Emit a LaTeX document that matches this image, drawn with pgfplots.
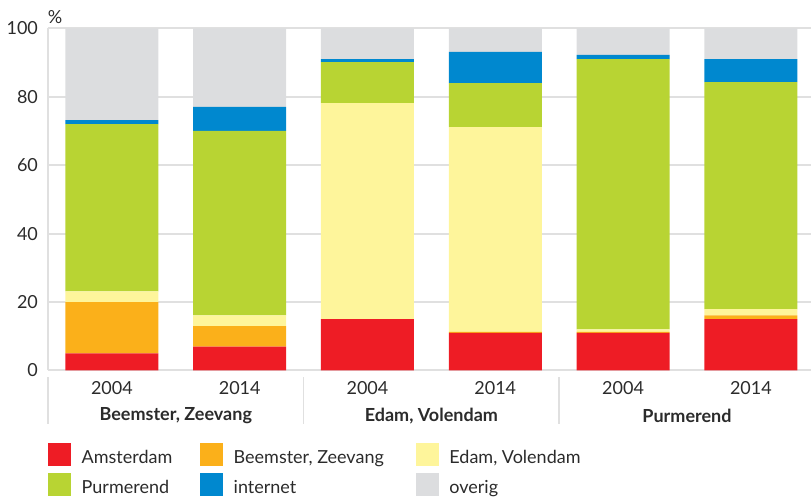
\documentclass[border=0pt]{standalone}
\usepackage{pgfplots}
\pgfplotsset{compat=1.18}
\usepackage{pgfplotstable}
\usepackage{fontspec}
\setmainfont{Lato}
\definecolor{cAms}{HTML}{EE1C25}
\definecolor{cBee}{HTML}{FBB01A}
\definecolor{cEda}{HTML}{FEF59B}
\definecolor{cPur}{HTML}{B8D433}
\definecolor{cInt}{HTML}{0088CF}
\definecolor{cOve}{HTML}{DCDDDF}
\definecolor{gridc}{HTML}{E0E0E0}
\definecolor{txt}{HTML}{2B2B2B}

% shares in percent, one row per bar (group x year)
\pgfplotstableread{
x ams bee eda pur int ove
0 5  15  3.1 48.9 1.2 26.8
1 7  6   3.1 53.9 7.0 23.0
2 15 0   63.1 12.0 0.9 9.0
3 11 0.3 59.8 12.9 9.1 6.9
4 11 0.3 0.7 79.0 1.2 7.8
5 15 1.1 1.8 66.4 6.7 9.0
}\shares

\pgfplotsset{sw/.style={legend image code/.code={\fill (0pt,-1pt) rectangle (11.5pt,10.5pt);}}}

\begin{document}
\begin{tikzpicture}
\path[use as bounding box] (-24pt,-63.25pt) rectangle (381.5pt,185.25pt);
\begin{axis}[
  at={(0,0)}, anchor=south west,
  scale only axis, width=383.4pt, height=171.1pt,
  ybar stacked, bar width=46.5pt,
  xmin=-0.5, xmax=5.5, ymin=0, ymax=100,
  xtick={0,...,5}, xticklabels={2004,2014,2004,2014,2004,2014},
  ytick={0,20,...,100},
  axis lines*=left,
  axis line style={draw=gridc, line width=1pt},
  major tick length=0pt,
  ymajorgrids, grid style={draw=gridc, line width=1pt},
  tick label style={font=\fontsize{9}{10}\selectfont, text=txt},
  /pgf/number format/assume math mode=true,
  yticklabel style={xshift=-1.5pt},
  xticklabel style={yshift=-2pt},
  clip=false,
  legend columns=3,
  legend style={at={(0,0)}, anchor=north west, yshift=-36.25pt,
    draw=none, fill=none, inner sep=0pt, outer sep=0pt, row sep=3.35pt,
    nodes={inner sep=0pt, text height=10.5pt, text depth=1pt, anchor=base west,
      font=\fontsize{9}{10}\selectfont, text=txt},
    /tikz/every odd column/.append style={column sep=5.35pt}},
]
\addplot[fill=cAms, draw=none, sw] table[x=x, y=ams]{\shares};
\addlegendentry{\makebox[59.15pt][l]{Amsterdam}}
\addplot[fill=cBee, draw=none, sw] table[x=x, y=bee]{\shares};
\addlegendentry{\makebox[91pt][l]{Beemster, Zeevang}}
\addplot[fill=cEda, draw=none, sw] table[x=x, y=eda]{\shares};
\addlegendentry{Edam, Volendam}
\addplot[fill=cPur, draw=none, sw] table[x=x, y=pur]{\shares};
\addlegendentry{\makebox[59.15pt][l]{Purmerend}}
\addplot[fill=cInt, draw=none, sw] table[x=x, y=int]{\shares};
\addlegendentry{\makebox[91pt][l]{internet}}
\addplot[fill=cOve, draw=none, sw] table[x=x, y=ove]{\shares};
\addlegendentry{overig}

\node[text=txt, font=\fontsize{9}{10}\selectfont] at ([xshift=3.5pt, yshift=5.4pt]rel axis cs:0,1) {\%};
\foreach \s in {-0.5,1.5,3.5}{
  \edef\tmp{\noexpand\draw[gridc, line width=0.75pt] ([yshift=-3.25pt]axis cs:\s,0) -- ([yshift=-26.75pt]axis cs:\s,0);}
  \tmp
}
\node[text=txt, font=\bfseries\fontsize{9}{10}\selectfont] at ([yshift=-22.75pt]axis cs:0.5,0) {Beemster, Zeevang};
\node[text=txt, font=\bfseries\fontsize{9}{10}\selectfont] at ([yshift=-22.75pt]axis cs:2.5,0) {Edam, Volendam};
\node[text=txt, font=\bfseries\fontsize{9}{10}\selectfont] at ([yshift=-22.75pt]axis cs:4.5,0) {Purmerend};
\end{axis}
\end{tikzpicture}
\end{document}
